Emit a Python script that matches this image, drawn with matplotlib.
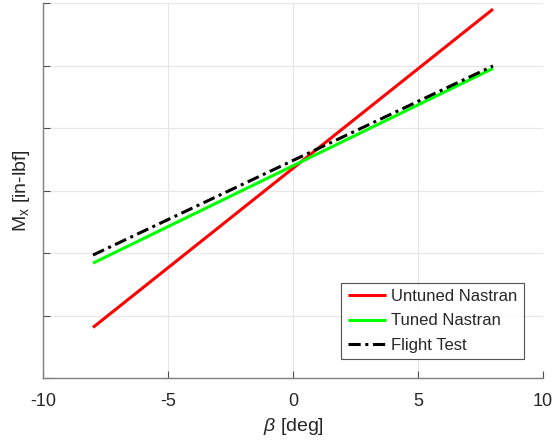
import matplotlib
matplotlib.use("Agg")
import matplotlib.pyplot as plt

plt.rcParams['font.family'] = ['Liberation Sans', 'DejaVu Sans']
plt.rcParams['mathtext.fontset'] = 'custom'
plt.rcParams['mathtext.it'] = 'Liberation Sans:italic'
plt.rcParams['mathtext.rm'] = 'Liberation Sans'
plt.rcParams['axes.unicode_minus'] = False

# Sideslip angle (deg) and rolling moment (arbitrary scale, no labels)
beta = [-8, 8]
mx_untuned = [-2.19, 2.91]
mx_tuned = [-1.16, 1.96]
mx_flight = [-1.03, 2.00]

x_ticks = [-10, -5, 0, 5, 10]
y_ticks = [-3, -2, -1, 0, 1, 2, 3]

fig = plt.figure(figsize=(5.53, 4.4), dpi=100)
ax = fig.add_axes([43 / 553, 62 / 440, 500 / 553, 374.5 / 440])

ax.plot(beta, mx_untuned, color='#ff0000', lw=2.2, label='Untuned Nastran', solid_capstyle='butt')
ax.plot(beta, mx_tuned, color='#00ff00', lw=2.2, label='Tuned Nastran', solid_capstyle='butt')
ax.plot(beta, mx_flight, color='black', lw=2.2, ls=(0, (4, 1.5, 1, 1.5)), label='Flight Test')

ax.set_xlim(-10, 10)
ax.set_ylim(-3, 3)
ax.set_xticks(x_ticks)
ax.set_yticks(y_ticks)
ax.set_yticklabels([])
ax.grid(True, color='#e6e6e6', lw=0.8)
ax.set_axisbelow(True)

for side in ('top', 'right'):
    ax.spines[side].set_visible(False)
for side in ('left', 'bottom'):
    ax.spines[side].set_color('#7f7f7f')
    ax.spines[side].set_linewidth(1.0)
ax.tick_params(direction='in', length=5, color='#4d4d4d', labelsize=13,
               labelcolor='#262626', pad=11)

ax.set_xlabel(r'$\beta$ [deg]', fontsize=14, color='#262626', labelpad=4)
ax.set_ylabel(r'M$_{\mathregular{x}}$ [in-lbf]', fontsize=14, color='#262626', labelpad=-3)

leg = ax.legend(loc='lower right', bbox_to_anchor=(0.962, 0.05), fontsize=12,
                frameon=True, fancybox=False, edgecolor='#262626', handlelength=2.3,
                handletextpad=0.3, borderpad=0.4, labelspacing=0.55, borderaxespad=0)
leg.get_frame().set_linewidth(0.8)
for t in leg.get_texts():
    t.set_color('#262626')

fig.savefig('out.png', dpi=100)
